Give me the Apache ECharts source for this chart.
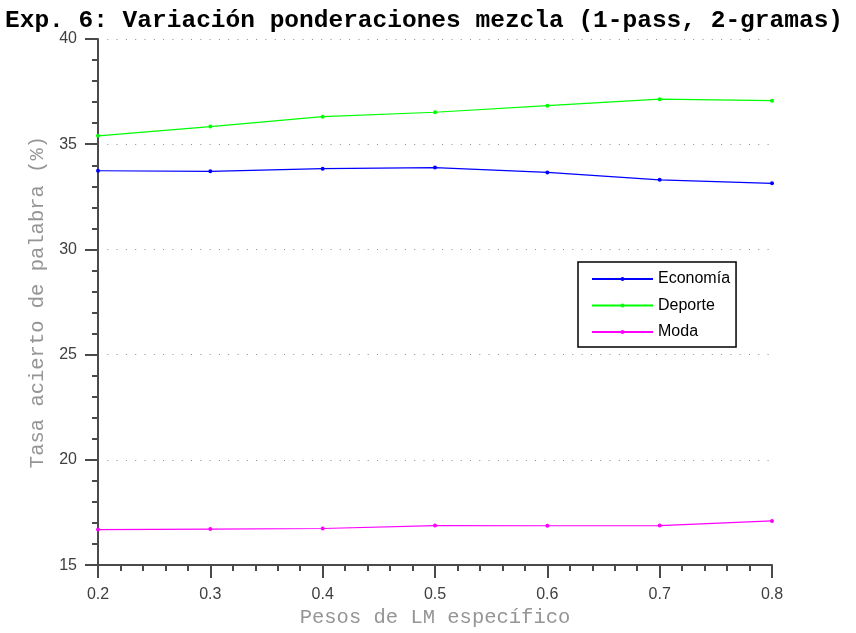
<!DOCTYPE html>
<html>
<head>
<meta charset="utf-8">
<script src="https://cdn.jsdelivr.net/npm/echarts@6/dist/echarts.min.js"></script>
<style>html,body{margin:0;padding:0;background:#fff}#c{width:856px;height:633px}</style>
</head>
<body>
<div id="c"></div>
<script>
const weights = [0.2, 0.3, 0.4, 0.5, 0.6, 0.7, 0.8];
const economia = [33.74, 33.71, 33.84, 33.89, 33.66, 33.31, 33.14];
const deporte = [35.40, 35.84, 36.31, 36.52, 36.83, 37.14, 37.07];
const moda = [16.69, 16.71, 16.74, 16.88, 16.87, 16.88, 17.10];
const seriesNames = ['Economía', 'Deporte', 'Moda'];
const seriesColors = ['#0000ff', '#00ff00', '#ff00ff'];
const titleText = 'Exp. 6: Variación ponderaciones mezcla (1-pass, 2-gramas)';
const xName = 'Pesos de LM específico';
const yName = 'Tasa acierto de palabra (%)';

const values = [economia, deporte, moda];
const axisColor = '#4a4a4a';
const chart = echarts.init(document.getElementById('c'), null, {renderer: 'canvas'});
chart.setOption({
  animation: false,
  backgroundColor: '#fff',
  title: {
    text: titleText,
    left: 0, top: 3,
    textStyle: {fontFamily: 'Liberation Mono', fontWeight: 'bold', fontSize: 24.5, color: '#000'}
  },
  grid: {left: 98, width: 674, top: 39, height: 531, containLabel: false},
  legend: {
    orient: 'vertical',
    left: 578, top: 262,
    backgroundColor: '#fff',
    borderColor: '#000', borderWidth: 1.5,
    padding: [9, 6, 7, 13],
    itemWidth: 61, itemHeight: 5, itemGap: 10.5,
    textStyle: {fontFamily: 'Liberation Sans', fontSize: 16, color: '#000'},
    data: seriesNames
  },
  xAxis: {
    type: 'value', min: 0.2, max: 0.8, interval: 0.1,
    name: xName, nameLocation: 'middle', nameGap: 41,
    nameTextStyle: {fontFamily: 'Liberation Mono', fontSize: 20.5, color: '#959595'},
    axisLine: {lineStyle: {color: axisColor, width: 2}},
    axisTick: {length: 13, lineStyle: {color: axisColor, width: 2}},
    minorTick: {show: true, splitNumber: 5, length: 6, lineStyle: {color: axisColor, width: 2}},
    axisLabel: {margin: 21, fontFamily: 'Liberation Sans', fontSize: 16, color: '#404040',
      formatter: v => v.toFixed(1)},
    splitLine: {show: false}
  },
  yAxis: {
    type: 'value', min: 15, max: 40, interval: 5,
    name: yName, nameLocation: 'middle', nameGap: 48,
    nameTextStyle: {fontFamily: 'Liberation Mono', fontSize: 20.5, color: '#959595'},
    axisLine: {show: true, lineStyle: {color: axisColor, width: 2}},
    axisTick: {show: true, length: 13, lineStyle: {color: axisColor, width: 2}},
    minorTick: {show: true, splitNumber: 5, length: 6, lineStyle: {color: axisColor, width: 2}},
    axisLabel: {margin: 21, fontFamily: 'Liberation Sans', fontSize: 16, color: '#404040'},
    splitLine: {show: true, lineStyle: {color: '#8c8c8c', width: 1.2, type: [1, 8.3]}}
  },
  series: seriesNames.map((name, i) => ({
    name: name,
    type: 'line',
    data: weights.map((w, j) => [w, values[i][j]]),
    symbol: 'circle', symbolSize: 4,
    itemStyle: {color: seriesColors[i]},
    lineStyle: {color: seriesColors[i], width: 1.2},
    emphasis: {disabled: true}
  }))
});
</script>
</body>
</html>
